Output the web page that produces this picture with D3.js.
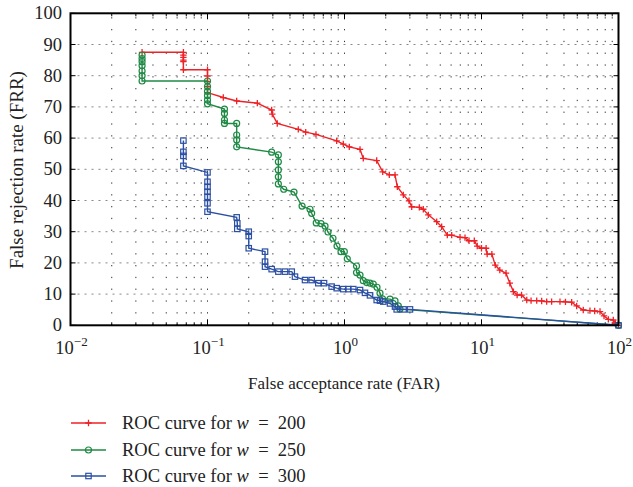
<!DOCTYPE html>
<html><head><meta charset="utf-8">
<script src="https://cdn.jsdelivr.net/npm/d3@7"></script>
<style>body{margin:0;background:#fff}svg{display:block}text{font-family:"Liberation Serif","DejaVu Serif",serif;fill:#222}</style>
</head><body><svg id="c" width="633" height="487"></svg>
<script>
const redFAR=[0.0333,0.0667,0.0667,0.0667,0.0667,0.0667,0.0667,0.1,0.1,0.1,0.1,0.1,0.1304,0.1633,0.231,0.294,0.297,0.323,0.46,0.521,0.619,0.877,0.98,1.084,1.298,1.371,1.718,1.901,2.123,2.337,2.43,2.687,2.957,3.095,3.516,3.76,4.09,4.71,5.12,5.63,6.06,6.97,7.58,8.11,8.86,9.31,10.0,10.8,11.0,11.9,12.6,13.6,15.1,16.1,17.1,18.2,19.6,21.4,23.0,25.3,27.5,29.9,32.5,37.4,41.0,45.5,49.5,55.3,61.9,67.0,73.3,78.4,84.3,91.6,95,100];
const redFRR=[87.5,87.5,86.6,85.9,85.0,84.5,81.9,81.9,79.9,78.1,76.5,74.6,73.0,71.9,71.2,69.0,67.7,64.7,62.8,61.9,61.2,59.1,58.1,57.2,56.4,53.5,52.8,49.2,48.2,48.2,44.4,41.8,39.9,38.0,37.8,37.2,35.4,33.2,31.6,28.9,28.9,28.2,28.1,27.1,27.1,25.4,24.7,24.7,22.8,22.8,19.3,17.7,16.7,13.5,10.8,9.7,9.7,8.1,7.9,7.9,7.8,7.6,7.6,7.6,7.5,7.4,6.2,4.9,4.7,4.6,4.4,3.0,1.9,1.7,0.6,0];
const greenFAR=[0.0333,0.0333,0.0333,0.0333,0.0333,0.0333,0.0333,0.1,0.1,0.1,0.1,0.1,0.1,0.133,0.133,0.133,0.133,0.1633,0.1633,0.1633,0.1633,0.294,0.329,0.329,0.329,0.329,0.329,0.36,0.428,0.49,0.56,0.576,0.622,0.674,0.721,0.758,0.824,0.882,0.943,0.997,1.048,1.224,1.224,1.298,1.371,1.452,1.535,1.622,1.727,1.816,1.894,2.148,2.337,2.47,2.54,100];
const greenFRR=[86.6,85.5,84.5,83.2,81.5,80.0,78.3,78.3,76.5,75.0,73.6,72.2,71.0,69.3,67.9,65.8,64.7,64.7,61.0,59.4,57.2,55.5,54.6,52.4,49.8,47.6,45.3,43.6,42.7,38.2,37.2,35.9,32.8,32.6,31.8,29.9,27.9,25.4,23.6,23.6,21.3,19.0,16.9,16.1,14.3,13.7,13.5,13.2,12.2,10.3,8.5,8.4,7.8,6.2,5.2,0];
const blueFAR=[0.0667,0.0667,0.0667,0.0667,0.1,0.1,0.1,0.1,0.1,0.1,0.1,0.1633,0.165,0.165,0.2,0.2,0.2,0.263,0.263,0.263,0.294,0.329,0.368,0.412,0.435,0.515,0.576,0.644,0.709,0.806,0.877,0.98,1.066,1.159,1.298,1.411,1.535,1.718,1.816,1.919,2.148,2.337,2.404,2.7,3.007,100];
const blueFRR=[59.2,55.6,54.3,51.1,49.0,46.0,44.4,42.8,41.2,39.1,36.4,34.6,32.7,30.9,30.0,28.6,24.7,23.6,20.4,18.8,18.0,17.2,17.2,17.2,15.6,14.5,14.5,13.5,13.5,12.4,11.9,11.6,11.6,11.6,11.3,10.4,9.6,8.1,7.9,7.6,7.0,6.0,5.1,5.1,5.1,0];
const xTickExps=[-2,-1,0,1,2];
const yTicks=[0,10,20,30,40,50,60,70,80,90,100];
const legendLabels=["200","250","300"];
const xLabel="False acceptance rate (FAR)";
const yLabel="False rejection rate (FRR)";

const svg=d3.select("#c");
const L=70.5,R=618.5,T=13.3,B=325.3;
const x=d3.scaleLog().domain([0.01,100]).range([L,R]);
const y=d3.scaleLinear().domain([0,100]).range([B,T]);

// grid
const minor=[];
for(let e=-2;e<2;e++){for(let k=1;k<10;k++){minor.push(k*Math.pow(10,e));}}
minor.push(100);
const g=svg.append("g");
g.selectAll(".vg").data(minor.filter(v=>v>0.01&&v<100)).join("line")
 .attr("x1",d=>x(d)).attr("x2",d=>x(d)).attr("y1",B).attr("y2",T)
 .attr("stroke","#333").attr("stroke-width",1).attr("stroke-dasharray","1.3,10.5");
g.selectAll(".hg").data(yTicks.filter(v=>v>0&&v<100)).join("line")
 .attr("x1",L).attr("x2",R).attr("y1",d=>y(d)).attr("y2",d=>y(d))
 .attr("stroke","#888").attr("stroke-width",1).attr("stroke-dasharray","2,5");

// ticks inside
const tk=svg.append("g").attr("stroke","#000").attr("stroke-width",1);
yTicks.forEach(v=>{
 tk.append("line").attr("x1",L).attr("x2",L+5).attr("y1",y(v)).attr("y2",y(v));
 tk.append("line").attr("x1",R).attr("x2",R-5).attr("y1",y(v)).attr("y2",y(v));
});
minor.forEach(v=>{
 const major=Math.abs(Math.log10(v)-Math.round(Math.log10(v)))<1e-9;
 const len=major?6:3;
 tk.append("line").attr("x1",x(v)).attr("x2",x(v)).attr("y1",B).attr("y2",B-len);
 tk.append("line").attr("x1",x(v)).attr("x2",x(v)).attr("y1",T).attr("y2",T+len);
});

// series
function series(fx,fy,color,shape){
 const pts=fx.map((v,i)=>[v,fy[i]]);
 const line=d3.line().x(d=>x(d[0])).y(d=>y(d[1]));
 const gg=svg.append("g");
 gg.append("path").attr("d",line(pts)).attr("fill","none").attr("stroke",color).attr("stroke-width",1.4);
 drawMarkers(gg,pts.map(d=>[x(d[0]),y(d[1])]),color,shape);
}
function drawMarkers(gg,pp,color,shape){
 pp.forEach(([px,py])=>{
  if(shape==="plus"){
   gg.append("path").attr("d",`M${px-3.2},${py}H${px+3.2}M${px},${py-3.2}V${py+3.2}`).attr("stroke",color).attr("stroke-width",1.3).attr("fill","none");
  }else if(shape==="circle"){
   gg.append("circle").attr("cx",px).attr("cy",py).attr("r",3).attr("fill","none").attr("stroke",color).attr("stroke-width",1.2);
  }else{
   gg.append("rect").attr("x",px-2.7).attr("y",py-2.7).attr("width",5.4).attr("height",5.4).attr("fill","none").attr("stroke",color).attr("stroke-width",1.2);
  }
 });
}
const RED="#ee2126",GREEN="#1f8a45",BLUE="#2b4fa3";
series(redFAR,redFRR,RED,"plus");
series(greenFAR,greenFRR,GREEN,"circle");
series(blueFAR,blueFRR,BLUE,"square");

// frame
svg.append("rect").attr("x",L).attr("y",T).attr("width",R-L).attr("height",B-T).attr("fill","none").attr("stroke","#000").attr("stroke-width",2);

// y tick labels
svg.selectAll(".yl").data(yTicks).join("text").attr("x",62).attr("y",d=>y(d)+6).attr("text-anchor","end").attr("font-size",18.5).text(d=>d);
// x tick labels
xTickExps.forEach(e=>{
 const t=svg.append("text").attr("x",x(Math.pow(10,e))+1).attr("y",354).attr("text-anchor","middle").attr("font-size",18.5);
 t.append("tspan").text("10");
 t.append("tspan").attr("dy",-8.5).attr("font-size",13).text(e<0?"\u2212"+(-e):String(e));
});
// axis labels
svg.append("text").attr("x",344).attr("y",389).attr("text-anchor","middle").attr("font-size",17).text(xLabel);
svg.append("text").attr("transform","translate(23,170) rotate(-90)").attr("text-anchor","middle").attr("font-size",19).text(yLabel);

// legend
const colors=[RED,GREEN,BLUE],shapes=["plus","circle","square"],ly=[423,450,476];
legendLabels.forEach((lab,i)=>{
 const gg=svg.append("g");
 gg.append("line").attr("x1",71).attr("x2",106).attr("y1",ly[i]).attr("y2",ly[i]).attr("stroke",colors[i]).attr("stroke-width",1.4);
 drawMarkers(gg,[[88.5,ly[i]]],colors[i],shapes[i]);
 const t=gg.append("text").attr("x",122).attr("y",ly[i]+6).attr("font-size",18.5);
 t.append("tspan").text("ROC curve for ");
 t.append("tspan").attr("font-style","italic").text("w");
 t.append("tspan").text("\u2002=\u2002"+lab);
});
</script></body></html>
